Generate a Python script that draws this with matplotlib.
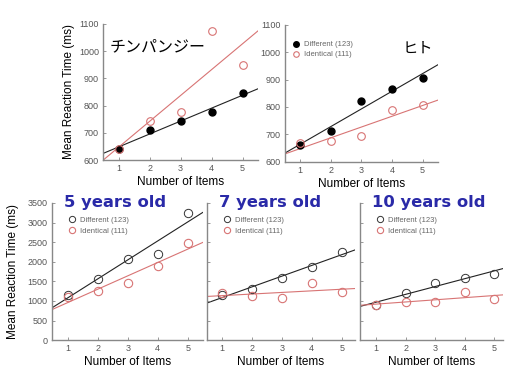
import numpy as np
import matplotlib
matplotlib.use("Agg")
import matplotlib.pyplot as plt
from matplotlib.lines import Line2D

plt.rcParams['font.family'] = ['Liberation Sans', 'Noto Sans CJK JP', 'DejaVu Sans']

# データ
items = [1, 2, 3, 4, 5]

chimp_diff = [640, 710, 745, 775, 845]
chimp_same = [640, 745, 775, 1075, 950]
human_diff = [660, 712, 823, 865, 905]
human_same = [668, 675, 696, 789, 807]

age_titles = ["5 years old", "7 years old", "10 years old"]
kids_diff = [
    [1150, 1560, 2065, 2210, 3245],
    [1154, 1300, 1598, 1855, 2248],
    [897, 1197, 1453, 1598, 1692],
]
kids_same = [
    [1100, 1265, 1450, 1897, 2487],
    [1197, 1128, 1068, 1453, 1239],
    [897, 983, 983, 1239, 1043],
]

legend_labels = ["Different (123)", "Identical (111)"]
top_yticks = [600, 700, 800, 900, 1000, 1100]
bottom_yticks = [0, 500, 1000, 1500, 2000, 2500, 3000, 3500]

RED = "#d87474"
BLK = "#222222"
NAVY = "#2a2aa8"
GRAY = "#888888"


def style_axis(ax, xlim):
    ax.set_xlim(*xlim)
    ax.set_xticks(items)
    ax.tick_params(direction="in", length=2.5, width=0.6, colors=GRAY,
                   labelsize=6.5, labelcolor="#555555", pad=3)
    for s in ["top", "right"]:
        ax.spines[s].set_visible(False)
    for s in ["left", "bottom"]:
        ax.spines[s].set_color(GRAY)
        ax.spines[s].set_linewidth(1.0)
    ax.set_xlabel("Number of Items", fontsize=8.5, labelpad=2)


def fit_line(ax, x, y, color, xlim):
    k, b = np.polyfit(x, y, 1)
    xs = np.array(xlim)
    ax.plot(xs, k * xs + b, color=color, lw=0.8, zorder=1)


fig = plt.figure(figsize=(5.08, 3.73), dpi=100)

# 上段：チンパンジーとヒト
ax1 = fig.add_axes([0.203, 0.571, 0.305, 0.365])
ax2 = fig.add_axes([0.561, 0.566, 0.301, 0.368])
for ax, d, s in [(ax1, chimp_diff, chimp_same), (ax2, human_diff, human_same)]:
    xl = (0.5, 5.5)
    fit_line(ax, items, d, BLK, xl)
    fit_line(ax, items, s, RED, xl)
    ax.plot(items, d, "o", color="black", ms=5, zorder=3)
    ax.plot(items, s, "o", mfc="none", mec=RED, ms=5.5, mew=0.8, zorder=3)
    style_axis(ax, xl)
    ax.set_ylim(600, 1100)
    ax.set_yticks(top_yticks)

ax1.set_ylabel("Mean Reaction Time (ms)", fontsize=8.5, labelpad=3)
ax1.text(0.04, 0.83, "チンパンジー", transform=ax1.transAxes, fontsize=11.5,
         family=['Noto Sans CJK JP'], va="center")
ax2.text(0.77, 0.83, "ヒト", transform=ax2.transAxes, fontsize=11,
         family=['Noto Sans CJK JP'], va="center")
h_top = [Line2D([], [], marker="o", ls="none", color="black", ms=4),
         Line2D([], [], marker="o", ls="none", mfc="none", mec=RED, ms=4, mew=0.8)]
ax2.legend(h_top, legend_labels, loc="upper left", bbox_to_anchor=(0.0, 0.93),
           fontsize=5.5, frameon=False, handletextpad=0.4, labelspacing=0.35,
           handlelength=1.2, labelcolor="#666666")

# 下段：子ども（年齢別）
bottom_pos = [
    [0.102, 0.088, 0.297, 0.368],
    [0.407, 0.088, 0.291, 0.368],
    [0.709, 0.088, 0.281, 0.368],
]
bottom_xlim = [(0.47, 5.5), (0.5, 5.43), (0.46, 5.3)]
for i in range(3):
    ax = fig.add_axes(bottom_pos[i])
    xl = bottom_xlim[i]
    fit_line(ax, items, kids_diff[i], BLK, xl)
    fit_line(ax, items, kids_same[i], RED, xl)
    ax.plot(items, kids_diff[i], "o", mfc="none", mec="#333333", ms=6, mew=0.7, zorder=3)
    ax.plot(items, kids_same[i], "o", mfc="none", mec=RED, ms=6, mew=0.8, zorder=3)
    style_axis(ax, xl)
    ax.set_ylim(0, 3500)
    ax.set_yticks(bottom_yticks)
    if i == 0:
        ax.set_ylabel("Mean Reaction Time (ms)", fontsize=8.5, labelpad=6)
    else:
        ax.set_yticklabels([])
    ax.text(0.08, 1.0, age_titles[i], transform=ax.transAxes, fontsize=11.8,
            fontweight="bold", family=['DejaVu Sans'], color=NAVY, va="center")
    h = [Line2D([], [], marker="o", ls="none", mfc="none", mec="#333333", ms=4.5, mew=0.7),
         Line2D([], [], marker="o", ls="none", mfc="none", mec=RED, ms=4.5, mew=0.8)]
    ax.legend(h, legend_labels, loc="upper left", bbox_to_anchor=(0.06, 0.95),
              fontsize=5.5, frameon=False, handletextpad=0.4, labelspacing=0.45,
              handlelength=1.2, labelcolor="#666666")

fig.savefig("out.png", dpi=100)
